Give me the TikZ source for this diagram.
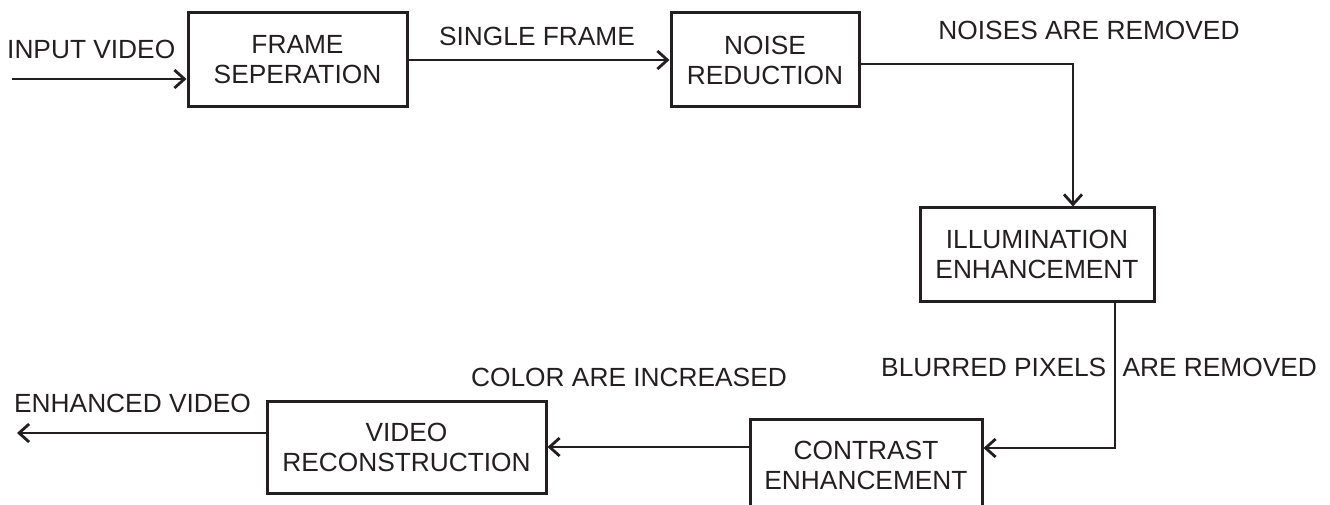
\documentclass[tikz,border=0pt]{standalone}
\usepackage{fontspec}
\setmainfont{Liberation Sans}
\usepackage{tikz}
\usetikzlibrary{calc,arrows.meta,positioning}
\definecolor{inkGray}{HTML}{231F20}
\tikzset{
myBlock/.style={
	rectangle,draw=inkGray,line width=3pt,
	inner sep=0pt,align=center,text=inkGray,
	font=\fontsize{26.3}{30}\selectfont
}
, myLabel/.style={
	inner sep=0pt,text=inkGray,
	font=\fontsize{26.3}{30}\selectfont
}
% link
, myArrow/.style={-{Straight Barb[length=10pt,width=18pt,line width=2.8pt]},draw=inkGray,line width=2.8pt}
}
\begin{document}
\begin{tikzpicture}[x=1pt,y=-1pt]
	\useasboundingbox (0,0) rectangle (1330,505);
	\clip (0,0) rectangle (1330,505);
	% nodes
	\node[myBlock,minimum width=219pt,minimum height=94pt] (Frame) at (297.5,60) {FRAME\\SEPERATION};
	\node[myBlock,minimum width=188pt,minimum height=94pt] (Noise) at (765,60) {NOISE\\REDUCTION};
	\node[myBlock,minimum width=234pt,minimum height=93pt] (Illum) at (1037,254.5) {ILLUMINATION\\ENHANCEMENT};
	\node[myBlock,minimum width=232pt,minimum height=92pt] (Contrast) at (866,465) {CONTRAST\\ENHANCEMENT};
	\node[myBlock,minimum width=279pt,minimum height=92pt] (Recon) at (406.5,447) {VIDEO\\RECONSTRUCTION};
	% labels
	\node[myLabel,anchor=west] (InLabel) at (7,49) {INPUT VIDEO};
	\node[myLabel] (SingleLabel) at (537,36) {SINGLE FRAME};
	\node[myLabel] (NoiseLabel) at (1089,30) {NOISES ARE REMOVED};
	\node[myLabel,anchor=west] (BlurLabel) at (881,367) {BLURRED PIXELS\hspace{9pt} ARE REMOVED};
	\node[myLabel] (ColorLabel) at (629,377) {COLOR ARE INCREASED};
	\node[myLabel,anchor=west] (OutLabel) at (14,403) {ENHANCED VIDEO};
	% ends
	\coordinate (In) at (12,79);
	\coordinate (Out) at (17,433);
	% links
	\draw [myArrow] (In) -- (In -| Frame.west);
	\draw [myArrow] (Frame.east) -- (Noise.west);
	\draw [myArrow] ([yshift=-4pt]Noise.east) -| ([xshift=36pt]Illum.north);
	\draw [myArrow] ([xshift=78pt]Illum.south) |- ([yshift=17pt]Contrast.east);
	\draw [myArrow] (Contrast.west |- Recon.east) -- (Recon.east);
	\draw [myArrow] (Recon.west |- Out) -- (Out);
\end{tikzpicture}
\end{document}
